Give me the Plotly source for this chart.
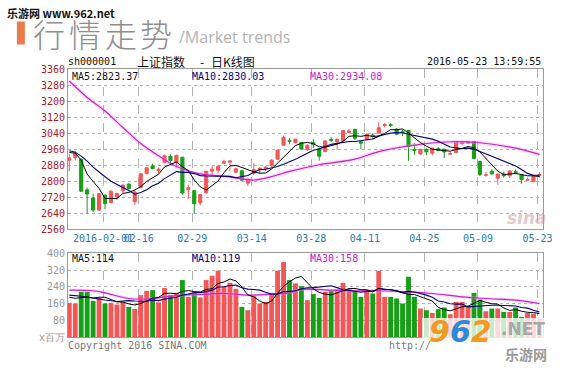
import plotly.graph_objects as go

# ---------------- data ----------------
dates = [
    "2016-01-22", "2016-01-25", "2016-01-26", "2016-01-27", "2016-01-28", "2016-01-29",
    "2016-02-01", "2016-02-02", "2016-02-03", "2016-02-04", "2016-02-05",
    "2016-02-15", "2016-02-16", "2016-02-17", "2016-02-18", "2016-02-19",
    "2016-02-22", "2016-02-23", "2016-02-24", "2016-02-25", "2016-02-26",
    "2016-02-29", "2016-03-01", "2016-03-02", "2016-03-03", "2016-03-04",
    "2016-03-07", "2016-03-08", "2016-03-09", "2016-03-10", "2016-03-11",
    "2016-03-14", "2016-03-15", "2016-03-16", "2016-03-17", "2016-03-18",
    "2016-03-21", "2016-03-22", "2016-03-23", "2016-03-24", "2016-03-25",
    "2016-03-28", "2016-03-29", "2016-03-30", "2016-03-31", "2016-04-01",
    "2016-04-05", "2016-04-06", "2016-04-07", "2016-04-08",
    "2016-04-11", "2016-04-12", "2016-04-13", "2016-04-14", "2016-04-15",
    "2016-04-18", "2016-04-19", "2016-04-20", "2016-04-21", "2016-04-22",
    "2016-04-25", "2016-04-26", "2016-04-27", "2016-04-28", "2016-04-29",
    "2016-05-03", "2016-05-04", "2016-05-05", "2016-05-06",
    "2016-05-09", "2016-05-10", "2016-05-11", "2016-05-12", "2016-05-13",
    "2016-05-16", "2016-05-17", "2016-05-18", "2016-05-19", "2016-05-20",
    "2016-05-23",
]

open_px = [2905, 2918, 2910, 2757, 2716, 2656, 2730, 2693, 2722, 2752,
           2786, 2697, 2768, 2838, 2876, 2853, 2893, 2924, 2892, 2920,
           2758, 2753, 2692, 2743, 2850, 2855, 2890, 2895, 2845, 2852,
           2790, 2840, 2858, 2863, 2877, 2910, 2980, 3002, 2993, 2993,
           2957, 2992, 2962, 2948, 3008, 2998, 3003, 3043, 3058, 2997,
           3007, 3030, 3040, 3078, 3082, 3060, 3048, 3053, 2958, 2936,
           2958, 2940, 2962, 2960, 2935, 2943, 2988, 2990, 2998, 2898,
           2830, 2850, 2815, 2835, 2827, 2848, 2832, 2805, 2798, 2828]
high_px = [2935, 2951, 2912, 2768, 2738, 2740, 2735, 2755, 2742, 2783,
           2789, 2757, 2839, 2868, 2888, 2869, 2933, 2934, 2933, 2920,
           2783, 2757, 2737, 2850, 2876, 2883, 2907, 2905, 2868, 2857,
           2813, 2890, 2870, 2875, 2910, 2958, 3027, 3015, 3010, 2995,
           2985, 3010, 2965, 3003, 3020, 3012, 3055, 3060, 3062, 3000,
           3040, 3040, 3093, 3090, 3090, 3065, 3058, 3056, 2990, 2962,
           2965, 2966, 2970, 2962, 2948, 2995, 3000, 3002, 3000, 2900,
           2845, 2860, 2837, 2848, 2855, 2860, 2833, 2818, 2832, 2845]
low_px = [2850, 2903, 2746, 2638, 2647, 2653, 2660, 2690, 2706, 2742,
          2758, 2682, 2765, 2835, 2860, 2840, 2890, 2890, 2868, 2733,
          2710, 2638, 2680, 2735, 2830, 2838, 2885, 2850, 2840, 2800,
          2775, 2830, 2835, 2850, 2870, 2905, 2977, 2985, 2988, 2955,
          2950, 2965, 2903, 2945, 2995, 2957, 3000, 3037, 3005, 2960,
          3005, 3010, 3038, 3068, 3070, 3030, 3025, 2902, 2932, 2930,
          2930, 2930, 2950, 2915, 2930, 2940, 2980, 2985, 2910, 2825,
          2823, 2830, 2782, 2818, 2815, 2835, 2787, 2800, 2795, 2818]
close_px = [2916, 2938, 2750, 2736, 2656, 2738, 2689, 2750, 2739, 2781,
            2763, 2746, 2837, 2867, 2863, 2860, 2927, 2903, 2929, 2741,
            2767, 2688, 2733, 2850, 2860, 2874, 2897, 2901, 2862, 2805,
            2810, 2857, 2864, 2870, 2905, 2955, 3019, 2999, 3010, 2961,
            2979, 2985, 2925, 3001, 3004, 3010, 3053, 3051, 3015, 2990,
            3034, 3024, 3067, 3082, 3078, 3034, 3043, 2973, 2954, 2959,
            2947, 2965, 2954, 2946, 2938, 2993, 2991, 2998, 2913, 2833,
            2832, 2837, 2836, 2827, 2851, 2844, 2808, 2807, 2825, 2833]
volume = [163, 160, 216, 216, 173, 187, 160, 163, 155, 168,
          144, 134, 200, 221, 224, 166, 234, 200, 211, 272,
          192, 211, 189, 272, 293, 317, 243, 259, 230, 144,
          128, 197, 160, 168, 205, 317, 358, 272, 256, 243,
          176, 205, 187, 216, 221, 227, 259, 232, 221, 192,
          224, 208, 317, 192, 192, 184, 160, 288, 192, 136,
          128, 115, 133, 141, 109, 168, 168, 147, 211, 179,
          123, 136, 136, 120, 120, 141, 96, 115, 112, 88]

ma5_px = [2943, 2940, 2905, 2835, 2799, 2764, 2714, 2714, 2714, 2739,
          2744, 2756, 2773, 2799, 2815, 2835, 2871, 2884, 2896, 2872,
          2853, 2806, 2772, 2756, 2780, 2801, 2843, 2876, 2879, 2868,
          2855, 2847, 2840, 2841, 2861, 2890, 2923, 2950, 2978, 2989,
          2994, 2987, 2972, 2970, 2979, 2985, 2999, 3024, 3027, 3024,
          3029, 3023, 3026, 3039, 3057, 3057, 3061, 3042, 3016, 2993,
          2975, 2960, 2956, 2954, 2950, 2959, 2964, 2973, 2967, 2946,
          2913, 2883, 2850, 2833, 2837, 2839, 2833, 2827, 2827, 2823]
ma10_px = [2952, 2945, 2925, 2900, 2870, 2845, 2822, 2800, 2783, 2769,
           2754, 2735, 2744, 2757, 2777, 2790, 2813, 2829, 2848, 2844,
           2844, 2838, 2828, 2826, 2826, 2827, 2824, 2824, 2817, 2824,
           2828, 2845, 2858, 2860, 2865, 2873, 2885, 2895, 2909, 2925,
           2942, 2955, 2961, 2974, 2984, 2989, 2993, 2998, 2998, 3001,
           3007, 3011, 3025, 3033, 3040, 3043, 3042, 3034, 3028, 3025,
           3016, 3010, 2999, 2985, 2971, 2967, 2962, 2965, 2960, 2948,
           2936, 2924, 2912, 2900, 2891, 2876, 2858, 2839, 2830, 2830]
ma30_px_idx = [0, 3, 6, 9, 12, 15, 18, 21, 23, 26, 29, 31, 34, 37, 42, 48, 52, 58, 64, 69, 75, 79]
ma30_px = [3300, 3218, 3150, 3068, 2988, 2927, 2873, 2843, 2832, 2825, 2812,
           2806, 2823, 2849, 2882, 2910, 2948, 2980, 2997, 2992, 2965, 2934]

ma5_vol = [190, 185, 188, 192, 186, 190, 190, 180, 168, 167,
           158, 153, 160, 173, 185, 189, 209, 209, 207, 217,
           222, 217, 215, 227, 231, 256, 263, 277, 268, 239,
           201, 192, 172, 159, 172, 209, 242, 264, 282, 289,
           261, 230, 213, 205, 201, 211, 222, 231, 232, 226,
           226, 215, 232, 227, 227, 219, 209, 203, 203, 192,
           181, 172, 141, 131, 125, 133, 144, 147, 161, 175,
           166, 159, 157, 139, 127, 131, 123, 118, 117, 112]
ma10_vol = [200, 198, 195, 190, 187, 182, 177, 173, 170, 172,
            174, 172, 170, 171, 176, 174, 181, 185, 190, 201,
            205, 213, 212, 217, 224, 239, 240, 246, 248, 235,
            229, 227, 224, 214, 205, 205, 217, 218, 221, 230,
            235, 236, 239, 244, 245, 236, 226, 222, 219, 214,
            218, 219, 232, 229, 226, 222, 212, 218, 215, 209,
            200, 190, 172, 167, 159, 157, 158, 144, 146, 150,
            149, 152, 152, 150, 151, 148, 141, 138, 128, 119]
ma30_vol_idx = [0, 4, 6, 10, 14, 16, 19, 22, 26, 30, 34, 37, 39, 44, 48, 52, 57, 61, 66, 70, 75, 79]
ma30_vol = [224, 221, 211, 184, 184, 192, 200, 203, 208, 200, 205,
            211, 227, 224, 221, 221, 216, 208, 192, 184, 176, 160]

price_ticks = [2560, 2640, 2720, 2800, 2880, 2960, 3040, 3120, 3200, 3280, 3360]
vol_ticks = [0, 80, 160, 240, 320, 400]
vol_tick_text = ["x百万", "80", "160", "240", "320", "400"]
tick_dates = ["2016-02-01", "2016-02-16", "2016-02-29", "2016-03-14", "2016-03-28",
              "2016-04-11", "2016-04-25", "2016-05-09", "2016-05-23"]
tick_text = ["2016-02-01", "02-16", "02-29", "03-14", "03-28", "04-11", "04-25", "05-09", "05-23"]
title_chars = ["行", "情", "走", "势"]

# ---------------- styling ----------------
MONO = "DejaVu Sans Mono"
CJK = "Noto Sans CJK SC"
RED = "#f25757"
GREEN = "#16a016"
NAVY = "#000080"
MAG = "#cc22cc"
GRID = "#b4b4b4"
BORDER = "#9a9a9a"

W, H = 564, 369
L, R, T, B = 68, 17, 69, 32
PW, PH = W - L - R, H - T - B


def pp(x, y):
    return (x - L) / PW, (H - B - y) / PH


xs = list(range(len(dates)))
tickvals = [dates.index(d) - 0.33 for d in tick_dates]
vol_colors = [RED if c >= o else GREEN for o, c in zip(open_px, close_px)]

fig = go.Figure()
fig.add_trace(go.Candlestick(
    x=xs, open=open_px, high=high_px, low=low_px, close=close_px,
    increasing=dict(line=dict(color=RED, width=1), fillcolor=RED),
    decreasing=dict(line=dict(color=GREEN, width=1), fillcolor=GREEN),
    whiskerwidth=0, showlegend=False, hoverinfo="skip", xaxis="x", yaxis="y"))

fig.add_trace(go.Scatter(x=ma30_px_idx, y=ma30_px, mode="lines",
                         line=dict(color="rgba(255,140,255,0.35)", width=3.5, shape="spline"),
                         showlegend=False, hoverinfo="skip", xaxis="x", yaxis="y"))
fig.add_trace(go.Scatter(x=ma30_px_idx, y=ma30_px, mode="lines", line=dict(color=MAG, width=1.2, shape="spline"),
                         showlegend=False, hoverinfo="skip", xaxis="x", yaxis="y"))
fig.add_trace(go.Scatter(x=xs, y=ma10_px, mode="lines", line=dict(color=NAVY, width=1.1),
                         showlegend=False, hoverinfo="skip", xaxis="x", yaxis="y"))
fig.add_trace(go.Scatter(x=xs, y=ma5_px, mode="lines", line=dict(color="black", width=1),
                         showlegend=False, hoverinfo="skip", xaxis="x", yaxis="y"))

fig.add_trace(go.Bar(x=xs, y=volume, marker=dict(color=vol_colors, line=dict(width=0)),
                     showlegend=False, hoverinfo="skip", xaxis="x2", yaxis="y2"))
fig.add_trace(go.Scatter(x=ma30_vol_idx, y=ma30_vol, mode="lines",
                         line=dict(color="rgba(255,140,255,0.35)", width=3, shape="spline"),
                         showlegend=False, hoverinfo="skip", xaxis="x2", yaxis="y2"))
fig.add_trace(go.Scatter(x=ma30_vol_idx, y=ma30_vol, mode="lines", line=dict(color=MAG, width=1.2, shape="spline"),
                         showlegend=False, hoverinfo="skip", xaxis="x2", yaxis="y2"))
fig.add_trace(go.Scatter(x=xs, y=ma10_vol, mode="lines", line=dict(color=NAVY, width=1.1),
                         showlegend=False, hoverinfo="skip", xaxis="x2", yaxis="y2"))
fig.add_trace(go.Scatter(x=xs, y=ma5_vol, mode="lines", line=dict(color="black", width=1),
                         showlegend=False, hoverinfo="skip", xaxis="x2", yaxis="y2"))

xcommon = dict(range=[-0.22, 79.6], tickmode="array", tickvals=tickvals, ticktext=tick_text,
               showgrid=True, gridcolor=GRID, griddash="dash", gridwidth=1, zeroline=False,
               showline=True, linecolor=BORDER, linewidth=1, mirror=True, ticks="", tickangle=0,
               fixedrange=True)

main_bottom = (H - B - 229.3) / PH
vol_top = (H - B - 253.3) / PH

fig.update_layout(
    width=W, height=H, autosize=False,
    margin=dict(l=L, r=R, t=T, b=B, pad=0),
    paper_bgcolor="white", plot_bgcolor="white",
    showlegend=False, boxgap=0.25, bargap=0.18,
    xaxis=dict(**xcommon, domain=[0, 1], anchor="y",
               tickfont=dict(family=MONO, size=10, color="#2a7bb6"),
               rangeslider=dict(visible=False)),
    xaxis2=dict(**xcommon, domain=[0, 1], anchor="y2", matches="x", showticklabels=False),
    yaxis=dict(domain=[main_bottom, 1], range=[2560, 3360], tickmode="array", tickvals=price_ticks,
               showgrid=True, gridcolor=GRID, griddash="dot", zeroline=False,
               showline=True, linecolor=BORDER, mirror=True, ticks="",
               tickfont=dict(family=MONO, size=10, color="#b3191b"), fixedrange=True),
    yaxis2=dict(domain=[0, vol_top], range=[0, 400], tickmode="array", tickvals=vol_ticks,
                ticktext=vol_tick_text,
                showgrid=True, gridcolor=GRID, griddash="dot", zeroline=False,
                showline=True, linecolor=BORDER, mirror=True, ticks="",
                tickfont=dict(family=MONO, size=10, color="#999999"), fixedrange=True),
)

annotations = []


def ann(text, x, y, size, color, family=MONO, xanchor="left", **fontkw):
    px_, py_ = pp(x, y)
    annotations.append(dict(text=text, x=px_, y=py_, xref="paper", yref="paper",
                            xanchor=xanchor, yanchor="middle", showarrow=False,
                            font=dict(family=family, size=size, color=color, **fontkw)))


# header
ann("<b>乐游网 www.962.net</b>", 4, 12.5, 11, "#111111", family=CJK)
for i, ch in enumerate(title_chars):
    ann(ch, 49 + 36 * i, 33, 32, "#8e8e8e", family=CJK, xanchor="center", weight=300)
ann("/Market trends", 178, 37.5, 16, "#b3b3b3", family="Open Sans")
ann("sh000001", 66, 62, 10, "#111111")
ann("上证指数", 136, 62, 12, "#111111", family=CJK)
ann("-", 203, 62, 12, "#111111", family=CJK, xanchor="center")
ann("日K线图", 210, 62, 12, "#111111", family=CJK)
ann("2016-05-23 13:59:55", 547, 62, 10, "#111111", xanchor="right")

# legends
ann("MA5:2823.37", 70, 76, 10, "#111111")
ann("MA10:2830.03", 191, 76, 10, NAVY)
ann("MA30:2934.08", 310, 76, 10, MAG)
ann("MA5:114", 70, 258.5, 10, "#111111")
ann("MA10:119", 191, 258.5, 10, NAVY)
ann("MA30:158", 310, 258.5, 10, MAG)

# footer
ann("Copyright 2016 SINA.COM", 66, 345, 10, "#777777")
ann("http://", 390, 345, 10, "#777777")

# sina logo
ann("<b><i>sina</i></b>", 509, 218, 17, "rgba(205,150,150,0.5)", family="DejaVu Sans")

shapes = []
x0, y0 = pp(16.5, 21.5)
x1, y1 = pp(24.5, 44.5)
shapes.append(dict(type="rect", xref="paper", yref="paper", x0=x0, y0=y0, x1=x1, y1=y1,
                   fillcolor="#ec7a4c", line=dict(width=0), layer="above"))
x0, y0 = pp(425, 318)
x1, y1 = pp(562, 363)
shapes.append(dict(type="rect", xref="paper", yref="paper", x0=x0, y0=y0, x1=x1, y1=y1,
                   fillcolor="rgba(255,255,255,0.78)", line=dict(width=0), layer="above"))

wm = []
px_, py_ = pp(430, 331)
wm.append(dict(text="<b><i><span style='color:#f29a1f'>9</span><span style='color:#2f8ad6'>6</span>"
                    "<span style='color:#f29a1f'>2</span></i></b>",
               x=px_, y=py_, xref="paper", yref="paper", xanchor="left", yanchor="middle", showarrow=False,
               font=dict(family="DejaVu Sans", size=30)))
px_, py_ = pp(503, 329)
wm.append(dict(text="<b>.NET</b>", x=px_, y=py_, xref="paper", yref="paper", xanchor="left", yanchor="middle",
               showarrow=False, font=dict(family="DejaVu Sans", size=17, color="#a8a8a8")))
px_, py_ = pp(507, 354)
wm.append(dict(text="<b>乐游网</b>", x=px_, y=py_, xref="paper", yref="paper", xanchor="left", yanchor="middle",
               showarrow=False, font=dict(family=CJK, size=14, color="#9a9a9a")))

fig.update_layout(annotations=annotations + wm, shapes=shapes)

fig.write_html("out.html")
